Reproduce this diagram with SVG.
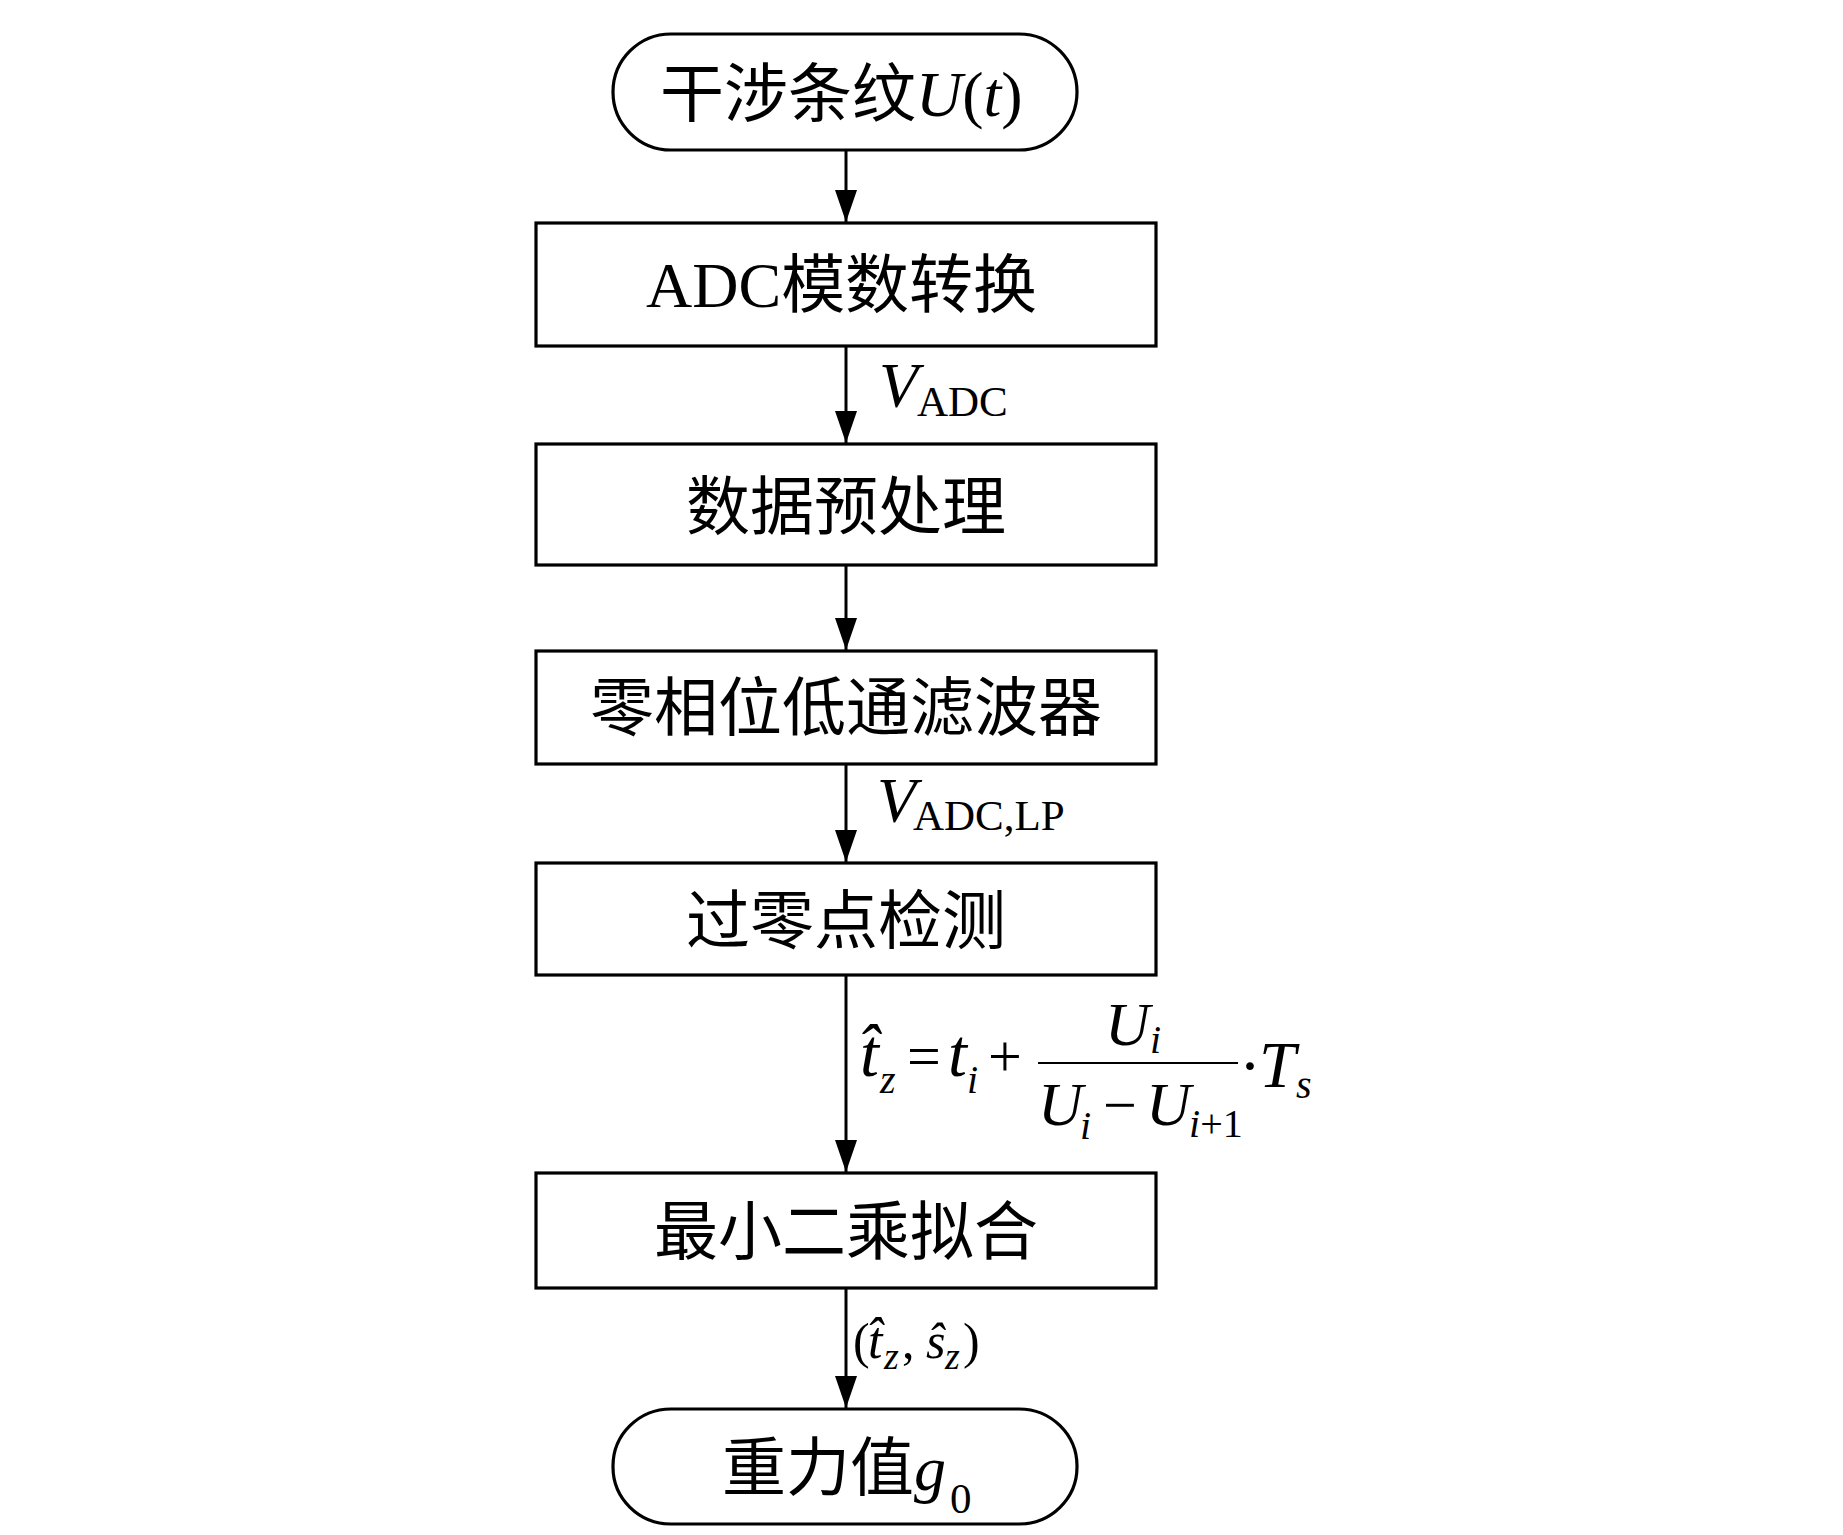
<svg xmlns="http://www.w3.org/2000/svg" width="1843" height="1535" viewBox="0 0 1843 1535">
<style>
.box{fill:#fff;stroke:#000;stroke-width:3.2}
.conn{stroke:#000;stroke-width:3;fill:none}
.t{font-family:"Liberation Serif","Noto Sans CJK SC",serif;font-size:64px;fill:#000}
.m{font-family:"Liberation Serif","Noto Sans CJK SC",serif;fill:#000}
.i{font-style:italic}
</style>
<defs>
<marker id="ah" markerUnits="userSpaceOnUse" markerWidth="32" markerHeight="22" refX="32" refY="11" orient="auto">
<path d="M0,0 L32,11 L0,22 z" fill="#000"/>
</marker>
</defs>
<rect width="1843" height="1535" fill="#fff"/>
<g id="connectors">
<line class="conn" x1="846" y1="150" x2="846" y2="222" marker-end="url(#ah)"/>
<line class="conn" x1="846" y1="346" x2="846" y2="443" marker-end="url(#ah)"/>
<line class="conn" x1="846" y1="565" x2="846" y2="650" marker-end="url(#ah)"/>
<line class="conn" x1="846" y1="764" x2="846" y2="862" marker-end="url(#ah)"/>
<line class="conn" x1="846" y1="975" x2="846" y2="1172" marker-end="url(#ah)"/>
<line class="conn" x1="846" y1="1288" x2="846" y2="1408" marker-end="url(#ah)"/>
</g>
<g id="label-vadc">
<text class="m i" x="879" y="407" font-size="64">V</text>
<text class="m" x="917" y="416" font-size="43">ADC</text>
</g>
<g id="label-vadclp">
<text class="m i" x="877" y="822" font-size="64">V</text>
<text class="m" x="913" y="830" font-size="43">ADC,LP</text>
</g>
<g id="label-formula">
<text class="m i" x="860" y="1076" font-size="68">t&#x302;</text>
<text class="m i" x="880" y="1093" font-size="40">z</text>
<text class="m" x="907" y="1076" font-size="60">=</text>
<text class="m i" x="948" y="1076" font-size="68">t</text>
<text class="m i" x="967" y="1093" font-size="40">i</text>
<text class="m" x="988" y="1076" font-size="60">+</text>
<line x1="1038" y1="1063" x2="1238" y2="1063" stroke="#000" stroke-width="2.2"/>
<text class="m i" x="1105" y="1045" font-size="62">U</text>
<text class="m i" x="1150" y="1053" font-size="40">i</text>
<text class="m i" x="1038" y="1125" font-size="62">U</text>
<text class="m i" x="1080" y="1139" font-size="40">i</text>
<text class="m" x="1103" y="1125" font-size="60">−</text>
<text class="m i" x="1146" y="1125" font-size="62">U</text>
<text class="m" x="1189" y="1137" font-size="40"><tspan class="i">i</tspan>+1</text>
<text class="m" x="1239" y="1088" font-size="66">·</text>
<text class="m i" x="1259" y="1087" font-size="66">T</text>
<text class="m i" x="1296" y="1098" font-size="40">s</text>
</g>
<g id="label-tzsz">
<text class="m" x="853" y="1358" font-size="50">(</text>
<text class="m i" x="868" y="1358" font-size="52">t&#x302;</text>
<text class="m i" x="884" y="1369" font-size="38">z</text>
<text class="m" x="902" y="1358" font-size="50">,</text>
<text class="m i" x="926" y="1358" font-size="50">s&#x302;</text>
<text class="m i" x="945" y="1369" font-size="38">z</text>
<text class="m" x="963" y="1358" font-size="50">)</text>
</g>
<g id="n-start">
<rect class="box" x="613" y="34" width="464" height="116" rx="58" ry="58"/>
<text class="t" x="660" y="116">干涉条纹<tspan class="i">U</tspan>(<tspan class="i">t</tspan>)</text>
</g>
<g id="n-adc">
<rect class="box" x="536" y="223" width="620" height="123"/>
<text class="t" x="646" y="307">ADC模数转换</text>
</g>
<g id="n-pre">
<rect class="box" x="536" y="444" width="620" height="121"/>
<text class="t" x="846" y="529" text-anchor="middle">数据预处理</text>
</g>
<g id="n-filter">
<rect class="box" x="536" y="651" width="620" height="113"/>
<text class="t" x="846" y="730" text-anchor="middle">零相位低通滤波器</text>
</g>
<g id="n-zero">
<rect class="box" x="536" y="863" width="620" height="112"/>
<text class="t" x="846" y="943" text-anchor="middle">过零点检测</text>
</g>
<g id="n-lsq">
<rect class="box" x="536" y="1173" width="620" height="115"/>
<text class="t" x="846" y="1254" text-anchor="middle">最小二乘拟合</text>
</g>
<g id="n-end">
<rect class="box" x="613" y="1409" width="464" height="115" rx="58" ry="57"/>
<text class="t" x="722" y="1490">重力值<tspan class="i">g</tspan></text>
<text class="m" x="950" y="1513" font-size="43">0</text>
</g>
</svg>
